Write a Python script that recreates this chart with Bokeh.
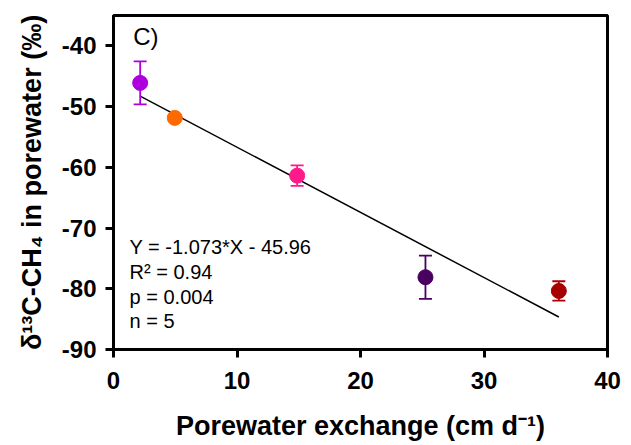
import numpy as np
from bokeh.plotting import figure
from bokeh.models import ColumnDataSource, Label, Range1d, FixedTicker
from bokeh.embed import file_html
from bokeh.resources import INLINE

# ---- data ----
exchange = [2.16, 4.96, 14.87, 25.26, 36.06]          # cm d-1
d13c = [-46.1, -51.86, -61.37, -78.1, -80.36]         # permil
d13c_err = [3.55, 0.5, 1.7, 3.55, 1.6]
colors = ["#AE00DE", "#FF6A00", "#FF1A8C", "#4A0060", "#A80000"]
slope = -1.073
intercept = -45.96
x_ticks = [0, 10, 20, 30, 40]
y_ticks = [-90, -80, -70, -60, -50, -40]
stats_lines = ["Y = -1.073*X - 45.96", "R\u00b2 = 0.94", "p = 0.004", "n = 5"]
panel_label = "C)"

FONT = "Liberation Sans"

p = figure(width=631, height=445, output_backend="svg", toolbar_location=None,
           x_range=Range1d(0, 40), y_range=Range1d(-90, -35),
           min_border_left=113, min_border_right=24,
           min_border_top=15, min_border_bottom=96)
p.grid.visible = False
p.background_fill_color = "white"
p.border_fill_color = "white"
p.outline_line_color = "black"
p.outline_line_width = 3

for ax in (p.xaxis[0], p.yaxis[0]):
    ax.axis_line_width = 3
    ax.major_tick_line_width = 3
    ax.major_tick_out = 8
    ax.major_tick_in = 0
    ax.minor_tick_line_color = None
    ax.major_label_text_font = FONT
    ax.major_label_text_font_style = "bold"
    ax.major_label_text_font_size = "24px"
    ax.major_label_text_color = "black"
    ax.axis_label_text_font = FONT
    ax.axis_label_text_font_style = "bold"
    ax.axis_label_text_font_size = "27px"
    ax.axis_label_text_color = "black"

p.xaxis.ticker = FixedTicker(ticks=x_ticks)
p.yaxis.ticker = FixedTicker(ticks=y_ticks)
p.xaxis.major_label_overrides = {t: str(t) for t in x_ticks}
p.yaxis.major_label_overrides = {t: str(t) for t in y_ticks}
p.xaxis.major_label_standoff = 14
p.yaxis.major_label_standoff = 9
p.xaxis.axis_label = "Porewater exchange (cm d\u207b\u00b9)"
p.yaxis.axis_label = "\u03b4\u00b9\u00b3C-CH\u2084 in porewater (\u2030)"
p.xaxis.axis_label_standoff = 19
p.yaxis.axis_label_standoff = 12

# regression line over the data span
xs = np.array([min(exchange), max(exchange)])
p.line(xs, slope * xs + intercept, line_color="black", line_width=1.5)

x = np.array(exchange)
y = np.array(d13c)
e = np.array(d13c_err)
src = ColumnDataSource(dict(x=x, y=y, lo=y - e, hi=y + e, c=colors))

# error bars
p.segment(x0="x", y0="lo", x1="x", y1="hi", line_color="c", line_width=1.8, source=src)
p.scatter(x="x", y="lo", marker="dash", size=13, line_color="c", line_width=1.8, source=src)
p.scatter(x="x", y="hi", marker="dash", size=13, line_color="c", line_width=1.8, source=src)
# points
p.scatter(x="x", y="y", marker="circle", size=15, fill_color="c", line_color="c", source=src)

p.add_layout(Label(x=1.6, y=-38.4, text=panel_label, text_font=FONT,
                   text_font_size="24px", text_baseline="middle", text_color="black"))
stat_y = [-73.1, -77.2, -81.35, -85.3]
for t, yy in zip(stats_lines, stat_y):
    p.add_layout(Label(x=1.3, y=yy, text=t, text_font=FONT, text_font_size="20px",
                       text_baseline="middle", text_color="black"))

open("out.html", "w").write(file_html(p, INLINE))
